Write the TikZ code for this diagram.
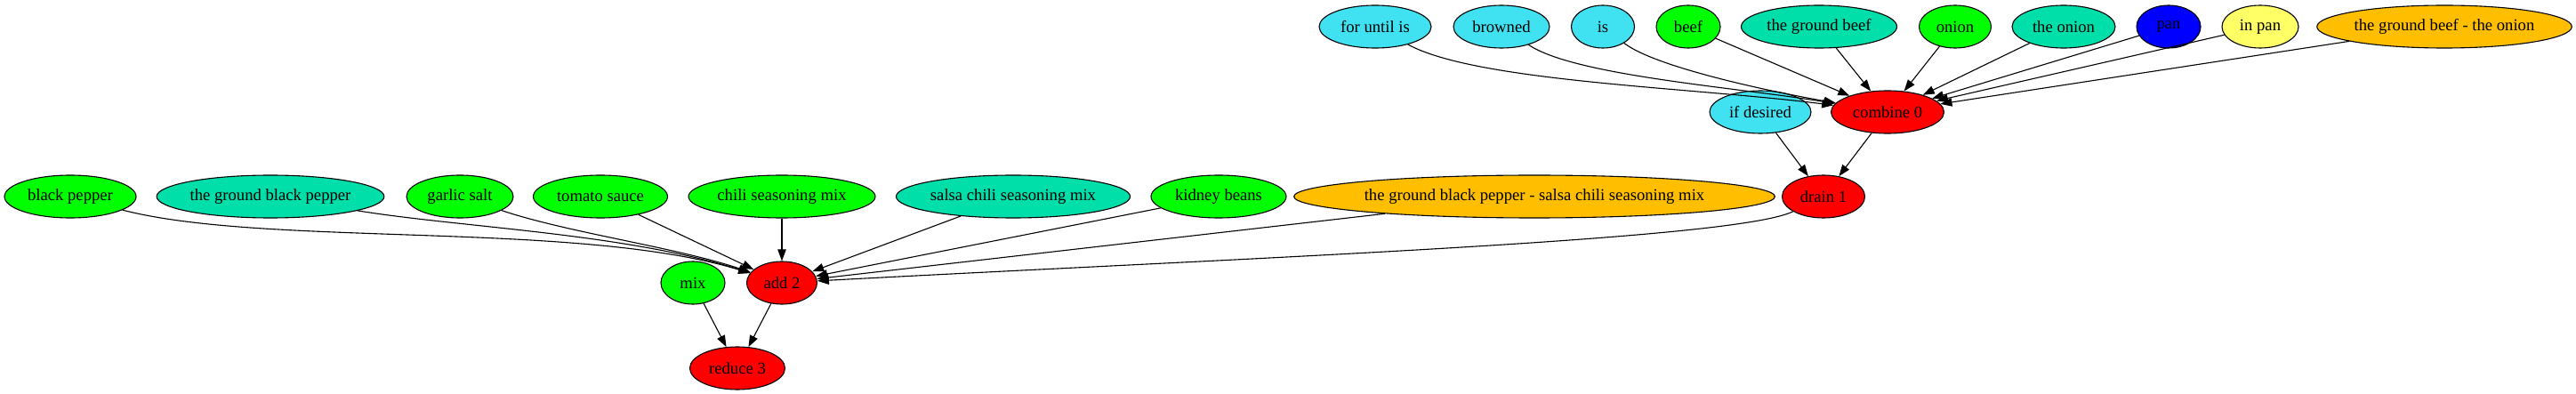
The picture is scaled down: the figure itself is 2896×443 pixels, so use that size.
\documentclass[tikz,border=0pt]{standalone}
\usepackage{fontspec}
\setmainfont{Liberation Serif}
\usetikzlibrary{arrows.meta,shapes.geometric}
\definecolor{cy}{RGB}{64,226,242}
\definecolor{tl}{RGB}{0,222,170}
\definecolor{gr}{RGB}{0,255,0}
\definecolor{og}{RGB}{255,191,0}
\definecolor{yl}{RGB}{255,255,102}
\definecolor{bl}{RGB}{0,0,255}
\definecolor{rd}{RGB}{255,0,0}
\begin{document}
\begin{tikzpicture}[x=0.5pt,y=-0.5pt,
  nd/.style={ellipse, draw=black, line width=0.55pt, minimum height=24pt, inner sep=0pt, font=\fontsize{9.33}{11}\selectfont},
  cyn/.style={nd, fill=cy},
  tln/.style={nd, fill=tl},
  grn/.style={nd, fill=gr},
  ogn/.style={nd, fill=og},
  yln/.style={nd, fill=yl},
  bln/.style={nd, fill=bl},
  rdn/.style={nd, fill=rd},
  e/.style={-{Triangle[length=6.5pt,width=4.7pt]}, line width=0.55pt}]
\useasboundingbox (0,0) rectangle (2896,443);
% row 1
\node[cyn, minimum width=63pt] (fui) at (1546,30) {for until is};
\node[cyn, minimum width=54pt] (brw) at (1688,30) {browned};
\node[cyn, minimum width=35.5pt] (is) at (1802,30) {is};
\node[grn, minimum width=36pt] (beef) at (1898,30) {beef};
\node[tln, minimum width=87.5pt] (tgb) at (2045,30) {the ground beef};
\node[grn, minimum width=40.5pt] (onion) at (2198,30) {onion};
\node[tln, minimum width=58pt] (theonion) at (2320,30) {the onion};
\node[bln, minimum width=36pt] (pan) at (2438,30) {pan};
\node[yln, minimum width=43pt] (inpan) at (2541,30) {in pan};
\node[ogn, minimum width=142pt] (tgbo) at (2748,30) {the ground beef - the onion};
% row 2
\node[cyn, minimum width=57pt] (ifd) at (1979,126) {if desired};
\node[rdn, minimum width=63.5pt] (c0) at (2122,126) {combine 0};
% row 3
\node[grn, minimum width=74pt] (bp) at (79,221) {black pepper};
\node[tln, minimum width=127.5pt] (tgbp) at (304,221) {the ground black pepper};
\node[grn, minimum width=60pt] (gs) at (517,221) {garlic salt};
\node[grn, minimum width=75.5pt] (ts) at (675,221) {tomato sauce};
\node[grn, minimum width=105pt] (csm) at (879,221) {chili seasoning mix};
\node[tln, minimum width=131pt] (scsm) at (1139,221) {salsa chili seasoning mix};
\node[grn, minimum width=76pt] (kb) at (1370,221) {kidney beans};
\node[ogn, minimum width=254.5pt] (tgbps) at (1725,221) {the ground black pepper - salsa chili seasoning mix};
\node[rdn, minimum width=46.5pt] (d1) at (2050,221) {drain 1};
% row 4
\node[grn, minimum width=36pt] (mix) at (779,318) {mix};
\node[rdn, minimum width=39.5pt] (a2) at (879,318) {add 2};
% row 5
\node[rdn, minimum width=53.5pt] (r3) at (829,414) {reduce 3};
% edges into combine 0
\draw[e] (fui) .. controls (1660,92) and (1900,98) .. (c0);
\draw[e] (brw) .. controls (1770,85) and (1950,98) .. (c0);
\draw[e] (is) .. controls (1860,75) and (1985,102) .. (c0);
\draw[e] (beef) -- (c0);
\draw[e] (tgb) -- (c0);
\draw[e] (onion) -- (c0);
\draw[e] (theonion) -- (c0);
\draw[e] (pan) -- (c0);
\draw[e] (inpan) -- (c0);
\draw[e] (tgbo) -- (c0);
% into drain 1
\draw[e] (ifd) -- (d1);
\draw[e] (c0) -- (d1);
% into add 2
\draw[e] (bp) .. controls (300,278) and (650,248) .. (a2);
\draw[e] (tgbp) .. controls (520,256) and (700,262) .. (a2);
\draw[e] (gs) .. controls (640,262) and (760,278) .. (a2);
\draw[e] (ts) -- (a2);
\draw[e] (csm) -- (a2);
\draw[e] (scsm) -- (a2);
\draw[e] (kb) -- (a2);
\draw[e] (tgbps) -- (a2);
\draw[e] (d1) .. controls (1950,270) and (1400,290) .. (a2);
% into reduce 3
\draw[e] (mix) -- (r3);
\draw[e] (a2) -- (r3);
\end{tikzpicture}
\end{document}
